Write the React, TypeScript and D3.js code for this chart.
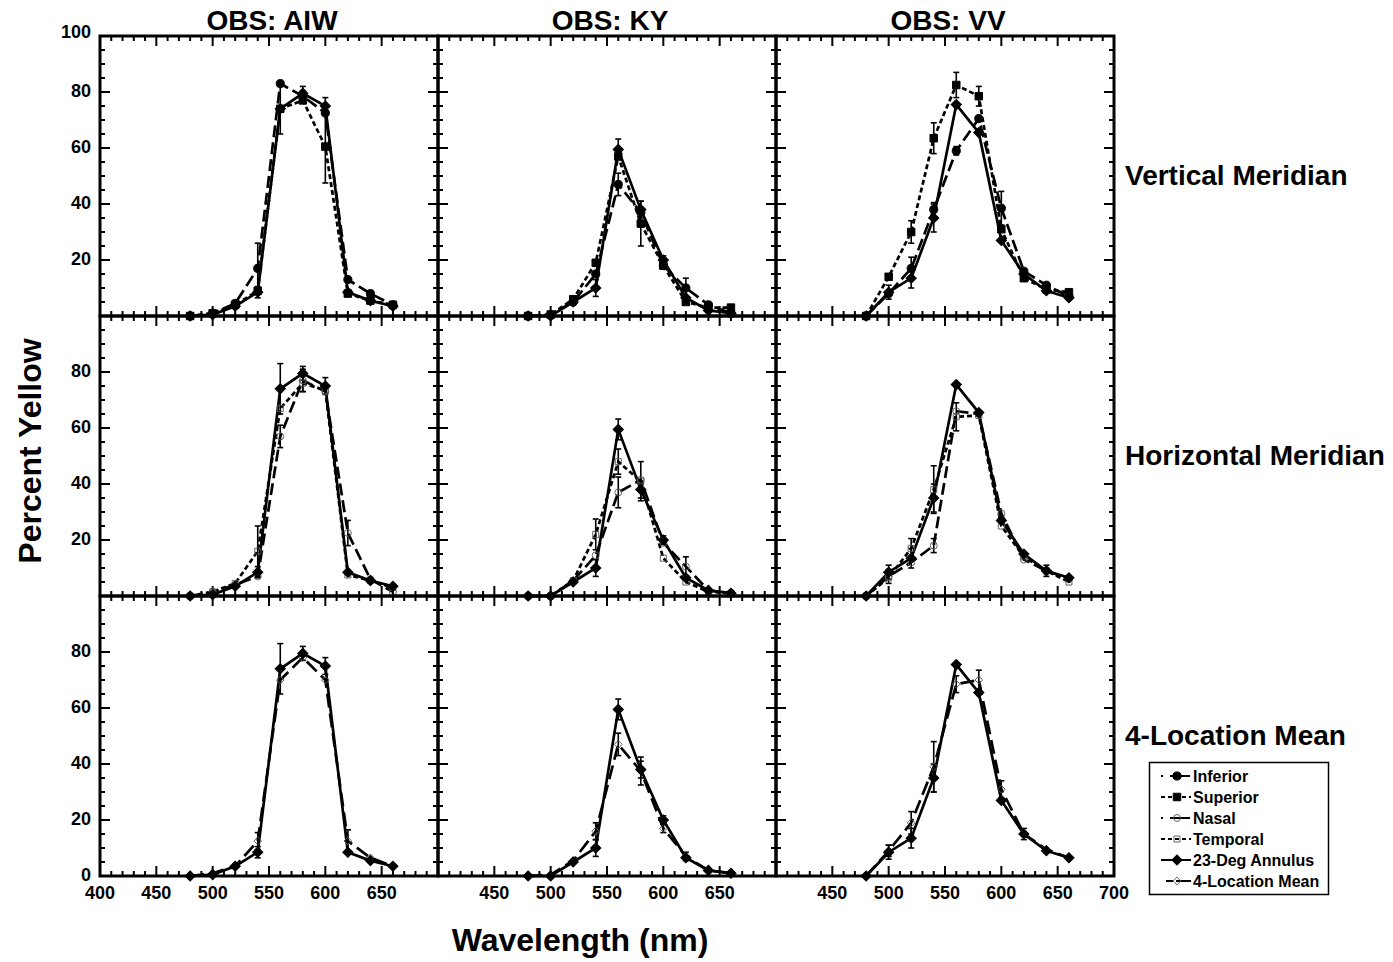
import React from "react";
import * as d3 from "d3";

// Wavelengths sampled (nm)
const wavelengths = [480, 500, 520, 540, 560, 580, 600, 620, 640, 660];
const observers = ["AIW", "KY", "VV"];
const rowLabels = ["Vertical Meridian", "Horizontal Meridian", "4-Location Mean"];
const xTickLabelsByCol = [
  [400, 450, 500, 550, 600, 650],
  [450, 500, 550, 600, 650],
  [450, 500, 550, 600, 650, 700],
];
const yTickLabelsByRow = [
  [20, 40, 60, 80, 100],
  [20, 40, 60, 80],
  [0, 20, 40, 60, 80],
];

// Observer AIW (percent yellow, ± SE)
const aiwAnnulus = [0, 0.5, 3.5, 8.5, 74, 79.5, 75, 8.5, 5.5, 3.5];
const aiwAnnulusErr = [0, 0, 0, 2, 9, 2.5, 3, 0, 0, 0];
const aiwInferior = [0, 1, 4.5, 17, 83, 78.5, 72.5, 13, 8, 4];
const aiwInferiorErr = [0, 0, 0, 9, 0, 2, 0, 0, 0, 0];
const aiwSuperior = [0, 1, 4, 9, 74, 77, 60.5, 8, 5.5, 4];
const aiwSuperiorErr = [0, 0, 0, 0, 0, 0, 13, 0, 0, 0];
const aiwNasal = [0, 1.5, 4, 7, 57, 77, 73, 22.5, 6, 1.5];
const aiwNasalErr = [0, 0, 0, 0, 4, 4, 0, 4.5, 0, 0];
const aiwTemporal = [0, 1.5, 4.5, 16, 67, 76, 73.5, 7.5, 5.5, 3];
const aiwTemporalErr = [0, 0, 0, 9, 0, 3, 0, 0, 0, 0];
const aiwMean = [0, 1, 3.5, 12.5, 70, 78, 70, 12.5, 6.5, 3.5];
const aiwMeanErr = [0, 0, 0, 3, 0, 0, 0, 4, 0, 0];

// Observer KY
const kyAnnulus = [0, 0, 5, 10, 59.5, 38, 20, 6.5, 2, 1];
const kyAnnulusErr = [0, 0, 0, 3, 3.7, 3, 1.5, 0, 0, 0];
const kyInferior = [0, 0.5, 5, 15, 47, 37, 18, 10, 4, 1];
const kyInferiorErr = [0, 0, 0, 0, 4, 0, 0, 3.5, 0, 0];
const kySuperior = [0, 0.5, 6, 19, 57, 33, 18, 5, 3, 3];
const kySuperiorErr = [0, 0, 0, 0, 0, 8, 0, 0, 0, 0];
const kyNasal = [0, 0, 5.5, 14.5, 37, 41.5, 19, 10.5, 2, 1];
const kyNasalErr = [0, 0, 0, 0, 5.5, 0, 0, 3.5, 0, 0];
const kyTemporal = [0, 0, 5.5, 22, 48, 41, 13.5, 5, 1.5, 1];
const kyTemporalErr = [0, 0, 0, 5.5, 4.5, 7, 0, 0, 0, 0];
const kyMean = [0, 0.5, 5.5, 16, 47, 37.5, 17, 7, 2, 1];
const kyMeanErr = [0, 0, 0, 3, 4, 5, 1.5, 1.5, 0, 0];

// Observer VV
const vvAnnulus = [0, 8.5, 13.5, 35, 75.5, 65.5, 27, 15, 9, 6.5];
const vvAnnulusErr = [0, 2.5, 3.5, 5, 0, 0, 0, 0, 0, 0];
const vvInferior = [0, 8, 17, 38, 59, 70.5, 38.5, 16, 11, 7];
const vvInferiorErr = [0, 0, 4, 2.5, 1.5, 0, 6, 0, 0, 0];
const vvSuperior = [0, 14, 30, 63.5, 82.5, 78.5, 31, 13.5, 9.5, 8.5];
const vvSuperiorErr = [0, 0, 4, 5.5, 4.5, 3.5, 0, 0, 0, 0];
const vvNasal = [0, 7, 12, 18, 66, 65, 29.5, 13, 9, 6];
const vvNasalErr = [0, 2.5, 0, 2.5, 0, 0, 0, 0, 0, 0];
const vvTemporal = [0, 6.5, 17, 38, 64, 64.5, 25, 14, 9, 5];
const vvTemporalErr = [0, 0, 3.5, 8.5, 5, 0, 0, 0, 2, 0];
const vvMean = [0, 9, 19, 39, 68.5, 70, 31, 15, 9.5, 6.5];
const vvMeanErr = [0, 2, 4, 9, 3, 3.5, 3, 2, 0, 0];

type MarkerKind = "circle" | "square" | "diamond";
interface Style { dash: string | null; legendDash: string | null; marker: MarkerKind; filled: boolean }

const seriesStyle: Record<string, Style> = {
  Inferior: { dash: "12,5", legendDash: "2,7,20", marker: "circle", filled: true },
  Superior: { dash: "5,3", legendDash: "4,3", marker: "square", filled: true },
  Nasal: { dash: "12,5", legendDash: "2,7,20", marker: "circle", filled: false },
  Temporal: { dash: "5,3", legendDash: "4,3", marker: "square", filled: false },
  "23-Deg Annulus": { dash: null, legendDash: null, marker: "diamond", filled: true },
  "4-Location Mean": { dash: "14,6", legendDash: "7,3,20", marker: "diamond", filled: false },
};
const legendOrder = ["Inferior", "Superior", "Nasal", "Temporal", "23-Deg Annulus", "4-Location Mean"];

interface Series { name: string; values: number[]; errors: number[] }

const byObserver: Record<string, Series[][]> = {
  AIW: [
    [
      { name: "Inferior", values: aiwInferior, errors: aiwInferiorErr },
      { name: "Superior", values: aiwSuperior, errors: aiwSuperiorErr },
      { name: "23-Deg Annulus", values: aiwAnnulus, errors: aiwAnnulusErr },
    ],
    [
      { name: "Nasal", values: aiwNasal, errors: aiwNasalErr },
      { name: "Temporal", values: aiwTemporal, errors: aiwTemporalErr },
      { name: "23-Deg Annulus", values: aiwAnnulus, errors: aiwAnnulusErr },
    ],
    [
      { name: "4-Location Mean", values: aiwMean, errors: aiwMeanErr },
      { name: "23-Deg Annulus", values: aiwAnnulus, errors: aiwAnnulusErr },
    ],
  ],
  KY: [
    [
      { name: "Inferior", values: kyInferior, errors: kyInferiorErr },
      { name: "Superior", values: kySuperior, errors: kySuperiorErr },
      { name: "23-Deg Annulus", values: kyAnnulus, errors: kyAnnulusErr },
    ],
    [
      { name: "Nasal", values: kyNasal, errors: kyNasalErr },
      { name: "Temporal", values: kyTemporal, errors: kyTemporalErr },
      { name: "23-Deg Annulus", values: kyAnnulus, errors: kyAnnulusErr },
    ],
    [
      { name: "4-Location Mean", values: kyMean, errors: kyMeanErr },
      { name: "23-Deg Annulus", values: kyAnnulus, errors: kyAnnulusErr },
    ],
  ],
  VV: [
    [
      { name: "Inferior", values: vvInferior, errors: vvInferiorErr },
      { name: "Superior", values: vvSuperior, errors: vvSuperiorErr },
      { name: "23-Deg Annulus", values: vvAnnulus, errors: vvAnnulusErr },
    ],
    [
      { name: "Nasal", values: vvNasal, errors: vvNasalErr },
      { name: "Temporal", values: vvTemporal, errors: vvTemporalErr },
      { name: "23-Deg Annulus", values: vvAnnulus, errors: vvAnnulusErr },
    ],
    [
      { name: "4-Location Mean", values: vvMean, errors: vvMeanErr },
      { name: "23-Deg Annulus", values: vvAnnulus, errors: vvAnnulusErr },
    ],
  ],
};

const W = 1393;
const H = 962;
const FONT = "'Liberation Sans', Arial, Helvetica, sans-serif";
const LEFT = 100;
const TOP = 36;
const PW = 338;
const PH = 280;

const x = d3.scaleLinear().domain([400, 700]).range([0, PW]);
const y = d3.scaleLinear().domain([0, 100]).range([PH, 0]);

const symbolPath = (kind: MarkerKind, filled: boolean) => {
  if (kind === "circle") return d3.symbol().type(d3.symbolCircle).size(filled ? 52 : 38)()!;
  if (kind === "square") return d3.symbol().type(d3.symbolSquare).size(filled ? 56 : 36)()!;
  return d3.symbol().type(d3.symbolSquare).size(filled ? 52 : 30)()!;
};

function Marker({ kind, filled, cx, cy }: { kind: MarkerKind; filled: boolean; cx: number; cy: number }) {
  const rot = kind === "diamond" ? 45 : 0;
  return (
    <path
      d={symbolPath(kind, filled)}
      transform={`translate(${cx},${cy}) rotate(${rot})`}
      fill={filled ? "#000" : "none"}
      stroke={filled ? "#000" : "#555"}
      strokeWidth={filled ? 1 : 0.9}
    />
  );
}

function Panel({ col, row }: { col: number; row: number }) {
  const series = byObserver[observers[col]][row];
  const line = d3
    .line<number>()
    .x((_, i) => x(wavelengths[i]))
    .y((v) => y(v));
  const xTicks = d3.range(410, 700, 10);
  const yTicks = d3.range(5, 100, 5);
  return (
    <g transform={`translate(${LEFT + col * PW},${TOP + row * PH})`}>
      {/* tick marks, pointing inward on all four sides */}
      {xTicks.map((t) => {
        const len = t % 50 === 0 ? 10 : 5;
        return (
          <g key={`xt${t}`}>
            <line x1={x(t)} x2={x(t)} y1={0} y2={len} stroke="#000" strokeWidth={2} />
            <line x1={x(t)} x2={x(t)} y1={PH} y2={PH - len} stroke="#000" strokeWidth={2} />
          </g>
        );
      })}
      {yTicks.map((t) => {
        const len = t % 20 === 0 ? 10 : 5;
        return (
          <g key={`yt${t}`}>
            <line x1={0} x2={len} y1={y(t)} y2={y(t)} stroke="#000" strokeWidth={2} />
            <line x1={PW} x2={PW - len} y1={y(t)} y2={y(t)} stroke="#000" strokeWidth={2} />
          </g>
        );
      })}
      {/* connecting lines: dashed series first, solid annulus on top */}
      {series.map((s) => {
        const st = seriesStyle[s.name];
        return (
          <path
            key={`l-${s.name}`}
            d={line(s.values)!}
            fill="none"
            stroke="#000"
            strokeWidth={2.7}
            strokeDasharray={st.dash ?? undefined}
            strokeLinejoin="miter"
          />
        );
      })}
      {/* error bars */}
      {series.map((s) =>
        s.values.map((v, i) => {
          const e = s.errors[i];
          if (!e) return null;
          const cx = x(wavelengths[i]);
          return (
            <g key={`e-${s.name}-${i}`} stroke="#000" strokeWidth={1.6}>
              <line x1={cx} x2={cx} y1={y(v - e)} y2={y(v + e)} />
              <line x1={cx - 3} x2={cx + 3} y1={y(v - e)} y2={y(v - e)} />
              <line x1={cx - 3} x2={cx + 3} y1={y(v + e)} y2={y(v + e)} />
            </g>
          );
        })
      )}
      {/* point markers */}
      {series.map((s) =>
        s.values.map((v, i) => {
          const st = seriesStyle[s.name];
          return (
            <Marker
              key={`m-${s.name}-${i}`}
              kind={st.marker}
              filled={st.filled}
              cx={x(wavelengths[i])}
              cy={y(v)}
            />
          );
        })
      )}
      <rect x={0} y={0} width={PW} height={PH} fill="none" stroke="#000" strokeWidth={3} />
    </g>
  );
}

export default function App() {
  const panels = [];
  for (let r = 0; r < 3; r++) for (let c = 0; c < 3; c++) panels.push(<Panel key={`p${r}${c}`} col={c} row={r} />);
  return (
    <svg
      width={W}
      height={H}
      viewBox={`0 0 ${W} ${H}`}
      style={{ position: "absolute", left: 0, top: 0, display: "block", background: "#fff" }}
      fontFamily={FONT}
    >
      <rect x={0} y={0} width={W} height={H} fill="#fff" />
      {panels}

      {/* column titles */}
      {observers.map((o, c) => (
        <text key={o} x={LEFT + c * PW + PW / 2 + 3} y={30} textAnchor="middle" fontSize={28} fontWeight="bold">
          {`OBS: ${o}`}
        </text>
      ))}

      {/* row titles */}
      {rowLabels.map((l, r) => (
        <text key={l} x={1125} y={TOP + r * PH + 149} fontSize={28} fontWeight="bold">
          {l}
        </text>
      ))}

      {/* y tick labels */}
      {yTickLabelsByRow.map((labels, r) =>
        labels.map((v) => (
          <text
            key={`yl${r}-${v}`}
            x={91}
            y={TOP + r * PH + y(v) + (v === 100 ? 2 : 5)}
            textAnchor="end"
            fontSize={18}
            fontWeight="bold"
          >
            {v}
          </text>
        ))
      )}

      {/* x tick labels */}
      {xTickLabelsByCol.map((labels, c) =>
        labels.map((v) => (
          <text
            key={`xl${c}-${v}`}
            x={LEFT + c * PW + x(v)}
            y={899}
            textAnchor="middle"
            fontSize={18}
            fontWeight="bold"
          >
            {v}
          </text>
        ))
      )}

      {/* axis titles */}
      <text x={580} y={951} textAnchor="middle" fontSize={32} fontWeight="bold">
        Wavelength (nm)
      </text>
      <text
        transform="translate(41,451) rotate(-90)"
        textAnchor="middle"
        fontSize={32}
        fontWeight="bold"
      >
        Percent Yellow
      </text>

      {/* legend */}
      <g>
        <rect x={1149.5} y={762.5} width={179} height={132} fill="#fff" stroke="#000" strokeWidth={1.5} />
        {legendOrder.map((name, i) => {
          const st = seriesStyle[name];
          const cy = 776 + i * 21;
          const x0 = name === "4-Location Mean" ? 1166 : 1161;
          return (
            <g key={name}>
              <line
                x1={x0}
                x2={1191}
                y1={cy}
                y2={cy}
                stroke="#000"
                strokeWidth={2}
                strokeDasharray={st.legendDash ?? undefined}
              />
              <Marker kind={st.marker} filled={st.filled} cx={1177} cy={cy} />
              <text x={1193} y={cy + 6} fontSize={16} fontWeight="bold">
                {name}
              </text>
            </g>
          );
        })}
      </g>
    </svg>
  );
}
